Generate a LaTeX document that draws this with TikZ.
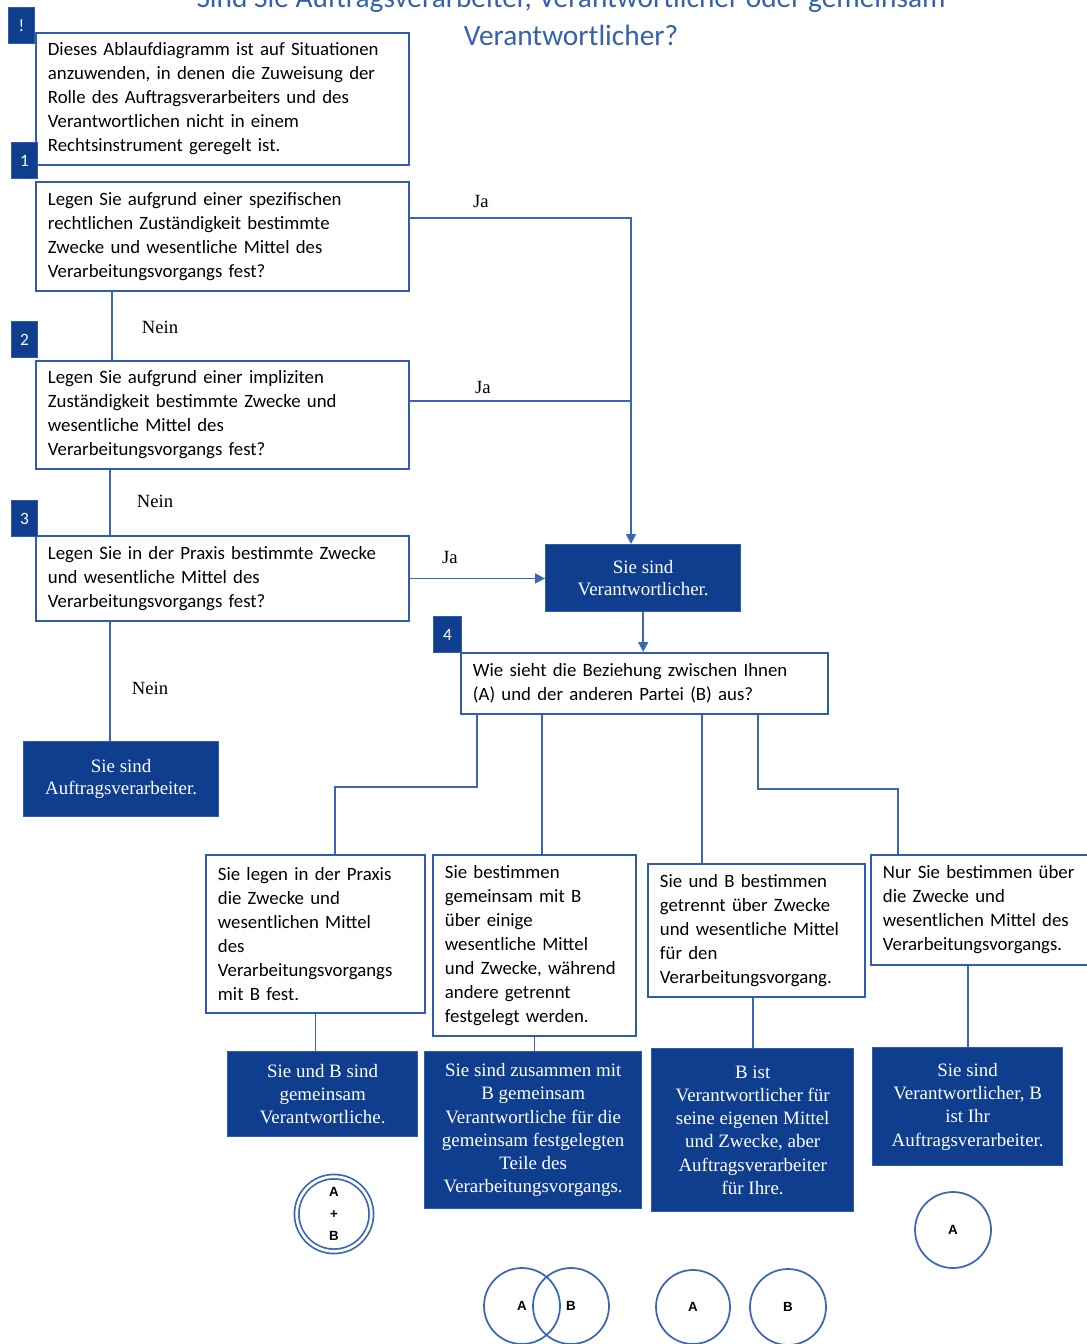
\documentclass[tikz,border=0pt]{standalone}
\usepackage{fontspec}
\setmainfont{Liberation Serif}
\newfontfamily\calfont{Carlito}
\newfontfamily\arfont{Liberation Sans}
\usetikzlibrary{calc,arrows.meta}
\definecolor{tblue}{HTML}{3561AD}
\definecolor{dblue}{HTML}{0F3E8F}
\definecolor{lblue}{HTML}{2F5CAC}
\definecolor{cblue}{HTML}{3A66B2}
\begin{document}
\begin{tikzpicture}[x=0.75pt,y=-0.75pt,
  qbox/.style={draw=lblue, line width=1.4pt, fill=white, anchor=north west,
    inner xsep=9pt, inner ysep=0pt, align=left,
    font=\calfont\fontsize{14.1}{18}\selectfont},
  rbox/.style={draw=lblue, fill=dblue, line width=1pt, anchor=north west,
    inner xsep=3pt, inner ysep=0pt, align=center, text=white,
    font=\fontsize{14.2}{17.4}\selectfont},
  badge/.style={fill=dblue, draw=lblue, line width=0.8pt, anchor=north west,
    minimum width=19.5pt, minimum height=27pt, inner sep=0pt, text=white,
    font=\calfont\fontsize{13}{15}\selectfont},
  conn/.style={draw=cblue, line width=1.3pt},
  arr/.style={conn, -{Triangle[length=7.5pt,width=7.5pt]}},
  lab/.style={font=\fontsize{14}{16}\selectfont, inner sep=0pt},
  ring/.style={circle, draw=cblue, line width=1.3pt, inner sep=0pt,
    minimum size=57pt, align=center,
    font=\arfont\bfseries\fontsize{10}{16.5}\selectfont},
  ttl/.style={text=tblue, font=\calfont\fontsize{22}{26}\selectfont, anchor=base, inner sep=0pt}
]
\useasboundingbox (0,0) rectangle (1087,1344);
\clip (0,0) rectangle (1087,1344);

% title
\node[ttl] (t1) at (571,8) {Sind Sie Auftragsverarbeiter, Verantwortlicher oder gemeinsam};
\node[ttl] (t2) at (571,46) {Verantwortlicher?};

% question boxes
\node[qbox, minimum width=279.75pt, minimum height=99pt, text width=261.75pt] (b0) at (35,32)
 {Dieses Ablaufdiagramm ist auf Situationen\\ anzuwenden, in denen die Zuweisung der\\ Rolle des Auftragsverarbeiters und des\\ Verantwortlichen nicht in einem\\ Rechtsinstrument geregelt ist.};
\node[qbox, minimum width=279.75pt, minimum height=81.75pt, text width=261.75pt] (b1) at (35,181)
 {Legen Sie aufgrund einer spezifischen\\ rechtlichen Zuständigkeit bestimmte\\ Zwecke und wesentliche Mittel des\\ Verarbeitungsvorgangs fest?};
\node[qbox, minimum width=279.75pt, minimum height=81pt, text width=261.75pt] (b2) at (35,360)
 {Legen Sie aufgrund einer impliziten\\ Zuständigkeit bestimmte Zwecke und\\ wesentliche Mittel des\\ Verarbeitungsvorgangs fest?};
\node[qbox, minimum width=279.75pt, minimum height=63.75pt, text width=261.75pt] (b3) at (35,535)
 {Legen Sie in der Praxis bestimmte Zwecke\\ und wesentliche Mittel des\\ Verarbeitungsvorgangs fest?};
\node[qbox, minimum width=275.25pt, minimum height=45.75pt, text width=257.25pt] (b4) at (460,652)
 {Wie sieht die Beziehung zwischen Ihnen\\ (A) und der anderen Partei (B) aus?};

\node[qbox, minimum width=164.25pt, minimum height=118.5pt, text width=146.25pt] (A) at (205,854)
 {Sie legen in der Praxis\\ die Zwecke und\\ wesentlichen Mittel\\ des\\ Verarbeitungsvorgangs\\ mit B fest.};
\node[qbox, minimum width=152.25pt, minimum height=135.75pt, text width=134.25pt] (B) at (432,854)
 {Sie bestimmen\\ gemeinsam mit B\\ über einige\\ wesentliche Mittel\\ und Zwecke, während\\ andere getrennt\\ festgelegt werden.};
\node[qbox, minimum width=162.75pt, minimum height=99.75pt, text width=144.75pt] (C) at (647,863)
 {Sie und B bestimmen\\ getrennt über Zwecke\\ und wesentliche Mittel\\ für den\\ Verarbeitungsvorgang.};
\node[qbox, minimum width=178pt, minimum height=82.5pt, text width=160pt] (D) at (870,854)
 {Nur Sie bestimmen über\\ die Zwecke und\\ wesentlichen Mittel des\\ Verarbeitungsvorgangs.};

% result boxes
\node[rbox, minimum width=146.25pt, minimum height=56.25pt, font=\fontsize{14.2}{16.5}\selectfont] (proc) at (23,741)
 {Sie sind\\ Auftragsverarbeiter.};
\node[rbox, minimum width=146.25pt, minimum height=50.25pt, font=\fontsize{14.2}{16.5}\selectfont] (ver) at (545,544)
 {Sie sind\\ Verantwortlicher.};
\node[rbox, minimum width=142.5pt, minimum height=63.75pt] (RA) at (227,1051)
 {Sie und B sind\\ gemeinsam\\ Verantwortliche.};
\node[rbox, minimum width=162.75pt, minimum height=117.75pt] (RB) at (424,1051)
 {Sie sind zusammen mit\\ B gemeinsam\\ Verantwortliche für die\\ gemeinsam festgelegten\\ Teile des\\ Verarbeitungsvorgangs.};
\node[rbox, minimum width=151.5pt, minimum height=122.25pt] (RC) at (651,1048)
 {B ist\\ Verantwortlicher für\\ seine eigenen Mittel\\ und Zwecke, aber\\ Auftragsverarbeiter\\ für Ihre.};
\node[rbox, minimum width=142.5pt, minimum height=88.5pt] (RD) at (872,1047)
 {Sie sind\\ Verantwortlicher, B\\ ist Ihr\\ Auftragsverarbeiter.};

% badges
\node[badge] (k0) at (8,7) {!};
\node[badge] (k1) at (11,142) {1};
\node[badge] (k2) at (11,321) {2};
\node[badge] (k3) at (11,500) {3};
\node[badge, minimum width=21pt] (k4) at (433,616) {4};

% labels
\node[lab] (ja1) at (481,201) {Ja};
\node[lab] (ja2) at (483,387) {Ja};
\node[lab] (ja3) at (450,557) {Ja};
\node[lab] (ne1) at (160,327) {Nein};
\node[lab] (ne2) at (155,501) {Nein};
\node[lab] (ne3) at (150,688) {Nein};

% connectors: Nein chain
\coordinate (n1) at ($(b1.south west)+(77,0)$);
\coordinate (n2) at ($(b2.south west)+(75,0)$);
\coordinate (n3) at ($(b3.south west)+(75,0)$);
\draw[conn] (n1) -- (n1 |- b2.north);
\draw[conn] (n2) -- (n2 |- b3.north);
\draw[conn] (n3) -- (n3 |- proc.north);

% connectors: Ja
\coordinate (j1) at ($(b1.north east)+(0,37)$);
\coordinate (j2) at ($(b2.north east)+(0,41)$);
\coordinate (jx) at ($(ver.north west)+(86,0)$);
\draw[arr] (j1) -| (jx);
\draw[conn] (j2) -- (j2 -| jx);
\draw[arr] (b3.east) -- (b3.east -| ver.west);
\draw[arr] (ver.south) -- (ver.south |- b4.north);

% fan out from question 4
\coordinate (f1) at ($(b4.south west)+(17,0)$);
\coordinate (f2) at ($(b4.south west)+(82,0)$);
\coordinate (f3) at ($(b4.south west)+(242,0)$);
\coordinate (f4) at ($(b4.south west)+(298,0)$);
\coordinate (a1) at ($(A.north west)+(130,0)$);
\coordinate (d1) at ($(D.north west)+(28,0)$);
\draw[conn] (f1) -- ($(f1)+(0,72)$) -| (a1);
\draw[conn] (f2) -- (f2 |- B.north);
\draw[conn] (f3) -- (f3 |- C.north);
\draw[conn] (f4) -- ($(f4)+(0,74)$) -| (d1);

% to results
\draw[conn] (A.south) -- (A.south |- RA.north);
\draw[conn] (B.south) -- (B.south |- RB.north);
\draw[conn] (RC.north |- C.south) -- (RC.north);
\draw[conn] (RD.north |- D.south) -- (RD.north);

% circles
\node[ring, double=white, double distance=2pt, minimum size=56pt] (cab) at (334,1214) {A\\+\\B};
\node[ring] (ca1) at (522,1306) {A};
\node[ring] (cb1) at (571,1306) {B};
\node[ring, minimum size=55.5pt] (ca2) at (693,1307) {A};
\node[ring] (cb2) at (788,1307) {B};
\node[ring] (ca3) at (953,1230) {A};
\end{tikzpicture}
\end{document}
